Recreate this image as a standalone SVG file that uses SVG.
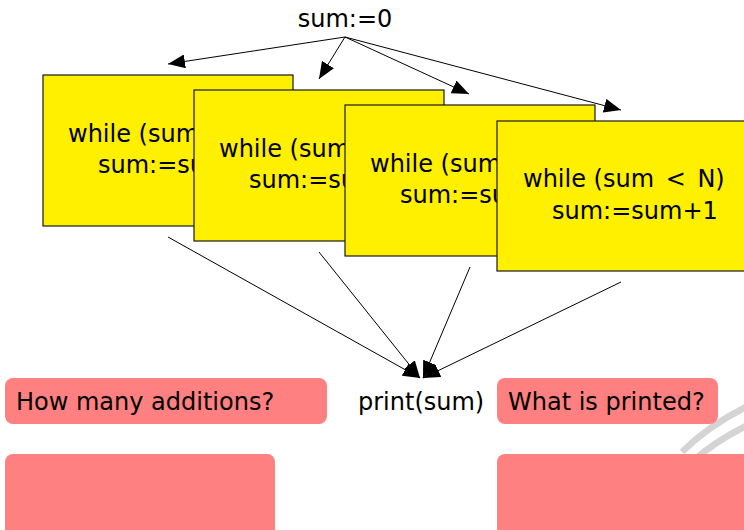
<svg xmlns="http://www.w3.org/2000/svg" width="744" height="530" viewBox="0 0 744 530">
  <style>
    text { font-family: "DejaVu Sans", "Liberation Sans", sans-serif; font-size: 24px; fill: #000; }
    .loop { fill: #fff000; stroke: #1a1a1a; stroke-width: 1.2; }
    .note { fill: #ff8080; }
    .edge { stroke: #000; stroke-width: 1; fill: none; marker-end: url(#head); }
    .mark { stroke: #d4d4d4; stroke-width: 6.5; fill: none; }
  </style>
  <defs>
    <marker id="head" markerUnits="userSpaceOnUse" markerWidth="18" markerHeight="14" refX="17" refY="7" orient="auto">
      <path d="M0,0 L17,7 L0,14 Z" fill="#000"/>
    </marker>
    <!-- each stacked card only shows its text up to the left edge of the card in front -->
    <clipPath id="vis1"><rect x="43" y="75" width="151" height="151"/></clipPath>
    <clipPath id="vis2"><rect x="194" y="90" width="151" height="151"/></clipPath>
    <clipPath id="vis3"><rect x="345" y="105" width="152" height="151"/></clipPath>
  </defs>

  <rect width="744" height="530" fill="#fff"/>

  <!-- faint logo strokes, lower right -->
  <g id="logo">
    <path class="mark" d="M682,452 Q708,426 746,407"/>
    <path class="mark" d="M694,460 Q716,441 746,426"/>
  </g>

  <g id="init">
    <text x="345" y="27" text-anchor="middle">sum:=0</text>
  </g>

  <g id="loop1">
    <rect class="loop" x="43" y="75" width="250" height="151"/>
    <g clip-path="url(#vis1)">
      <text x="68" y="142">while (sum</text>
      <text x="98" y="173">sum:=su</text>
    </g>
  </g>
  <g id="loop2">
    <rect class="loop" x="194" y="90" width="250" height="151"/>
    <g clip-path="url(#vis2)">
      <text x="219" y="157">while (sum</text>
      <text x="249" y="188">sum:=su</text>
    </g>
  </g>
  <g id="loop3">
    <rect class="loop" x="345" y="105" width="250" height="151"/>
    <g clip-path="url(#vis3)">
      <text x="370" y="172">while (sum</text>
      <text x="400" y="203">sum:=su</text>
    </g>
  </g>
  <g id="loop4">
    <rect class="loop" x="497" y="121" width="250" height="150"/>
    <text x="523" y="187">while (sum <tspan dx="4">&lt;</tspan><tspan dx="4"> N)</tspan></text>
    <text x="552" y="219">sum:=sum+1</text>
  </g>

  <g id="print">
    <text x="358" y="410">print(sum)</text>
  </g>

  <g id="q-additions">
    <rect class="note" x="5" y="378" width="322" height="46" rx="8"/>
    <text x="16" y="410">How many additions?</text>
  </g>
  <g id="q-printed">
    <rect class="note" x="497" y="378" width="221" height="46" rx="8"/>
    <text x="508" y="410">What is printed?</text>
  </g>
  <g id="a-additions">
    <rect class="note" x="5" y="454" width="270" height="90" rx="8"/>
  </g>
  <g id="a-printed">
    <rect class="note" x="497" y="454" width="260" height="90" rx="8"/>
  </g>

  <g id="connectors">
    <line class="edge" x1="345" y1="37" x2="168" y2="64"/>
    <line class="edge" x1="345" y1="37" x2="319" y2="79"/>
    <line class="edge" x1="345" y1="37" x2="469" y2="94"/>
    <line class="edge" x1="345" y1="37" x2="621" y2="110"/>
    <line class="edge" x1="168" y1="237" x2="420" y2="378"/>
    <line class="edge" x1="319" y1="252" x2="420" y2="378"/>
    <line class="edge" x1="470" y1="267" x2="423" y2="378"/>
    <line class="edge" x1="621" y1="282" x2="423" y2="378"/>
  </g>
</svg>
